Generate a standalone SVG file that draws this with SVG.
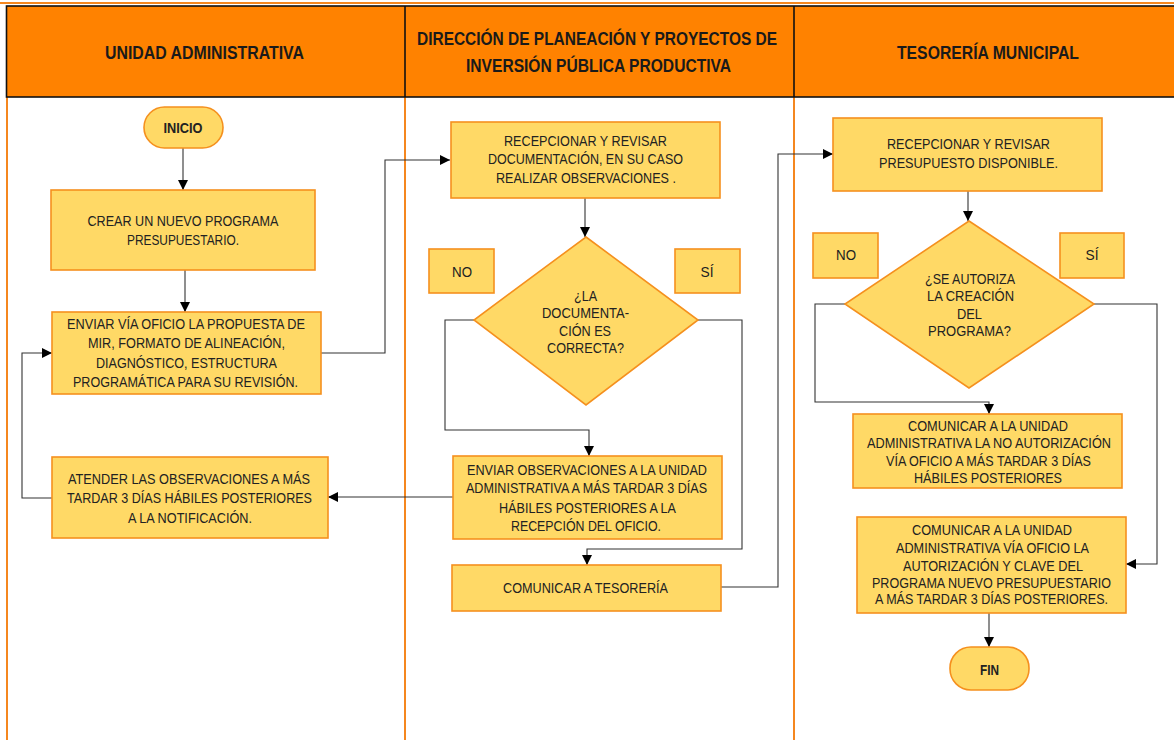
<svg xmlns="http://www.w3.org/2000/svg" width="1174" height="740" viewBox="0 0 1174 740">
<defs>
<style>
.lane{stroke:#F5871F;stroke-width:2;fill:none}
.hdr{fill:#FF8200;stroke:#111;stroke-width:1.6}
.box{fill:#FFD966;stroke:#F5901E;stroke-width:1.6}
.t{font-family:"Liberation Sans Narrow","Liberation Sans",Arial,sans-serif;font-size:14.2px;fill:#222;text-anchor:middle}
.b{font-weight:bold}
.h{font-family:"Liberation Sans Narrow","Liberation Sans",Arial,sans-serif;font-size:18px;font-weight:bold;fill:#1a1a1a;text-anchor:middle}
.c{fill:none;stroke:#333;stroke-width:1.1}
</style>
<marker id="ah" markerUnits="userSpaceOnUse" markerWidth="10" markerHeight="10" viewBox="0 0 10 10" refX="10" refY="5" orient="auto">
<path d="M0,0 L10,5 L0,10 z" fill="#000"/>
</marker>
</defs>
<rect x="0" y="0" width="1174" height="740" fill="#fff"/>
<g id="lanes">
<line class="lane" x1="0" y1="3" x2="1174" y2="3" stroke-width="2"/>
<line class="lane" x1="7" y1="97" x2="7" y2="740"/>
<line class="lane" x1="405" y1="97" x2="405" y2="740"/>
<line class="lane" x1="794" y1="97" x2="794" y2="740"/>
<rect class="hdr" x="6.5" y="6" width="1180" height="91"/>
<line x1="405" y1="6" x2="405" y2="97" stroke="#111" stroke-width="1.6"/>
<line x1="794" y1="6" x2="794" y2="97" stroke="#111" stroke-width="1.6"/>
<text class="h" x="204.5" y="59" textLength="199" lengthAdjust="spacingAndGlyphs">UNIDAD ADMINISTRATIVA</text>
<text class="h" x="597" y="45" textLength="360" lengthAdjust="spacingAndGlyphs">DIRECCIÓN DE PLANEACIÓN Y PROYECTOS DE</text>
<text class="h" x="598.5" y="72" textLength="265" lengthAdjust="spacingAndGlyphs">INVERSIÓN PÚBLICA PRODUCTIVA</text>
<text class="h" x="988" y="59" textLength="182" lengthAdjust="spacingAndGlyphs">TESORERÍA MUNICIPAL</text>
</g>
<g id="connectors">
<path class="c" d="M183,148 V190" marker-end="url(#ah)"/>
<path class="c" d="M185,270 V312" marker-end="url(#ah)"/>
<path class="c" d="M321,353 H385 V160 H450" marker-end="url(#ah)"/>
<path class="c" d="M585,198 V237" marker-end="url(#ah)"/>
<path class="c" d="M474,320 H445 V430 H589 V456" marker-end="url(#ah)"/>
<path class="c" d="M698,320 H742 V549 H587 V565" marker-end="url(#ah)"/>
<path class="c" d="M453,497 H328" marker-end="url(#ah)"/>
<path class="c" d="M52,498 H22 V353 H52" marker-end="url(#ah)"/>
<path class="c" d="M721,587 H778 V154 H833" marker-end="url(#ah)"/>
<path class="c" d="M968,191 V221" marker-end="url(#ah)"/>
<path class="c" d="M845,304 H815 V402 H989 V414" marker-end="url(#ah)"/>
<path class="c" d="M1094,304 H1157 V564 H1126" marker-end="url(#ah)"/>
<path class="c" d="M989,613 V647" marker-end="url(#ah)"/>
</g>
<g id="inicio">
<rect class="box" x="144" y="107" width="79" height="41" rx="20.5"/>
<text class="t b" x="183" y="133" textLength="39" lengthAdjust="spacingAndGlyphs">INICIO</text>
</g>
<g id="crear">
<rect class="box" x="51" y="190" width="264" height="80"/>
<text class="t" x="183" y="226" textLength="191" lengthAdjust="spacingAndGlyphs">CREAR UN NUEVO PROGRAMA</text>
<text class="t" x="183" y="245" textLength="112" lengthAdjust="spacingAndGlyphs">PRESUPUESTARIO.</text>
</g>
<g id="enviar-oficio">
<rect class="box" x="52" y="312" width="269" height="82"/>
<text class="t" x="186" y="329" textLength="238" lengthAdjust="spacingAndGlyphs">ENVIAR VÍA OFICIO  LA PROPUESTA DE</text>
<text class="t" x="186.5" y="348" textLength="197" lengthAdjust="spacingAndGlyphs">MIR, FORMATO DE ALINEACIÓN,</text>
<text class="t" x="186.5" y="368" textLength="181" lengthAdjust="spacingAndGlyphs">DIAGNÓSTICO, ESTRUCTURA</text>
<text class="t" x="185.5" y="387" textLength="225" lengthAdjust="spacingAndGlyphs">PROGRAMÁTICA PARA SU REVISIÓN.</text>
</g>
<g id="atender">
<rect class="box" x="52" y="457" width="276" height="81"/>
<text class="t" x="189" y="484" textLength="242" lengthAdjust="spacingAndGlyphs">ATENDER LAS OBSERVACIONES A MÁS</text>
<text class="t" x="189.5" y="503" textLength="245" lengthAdjust="spacingAndGlyphs">TARDAR 3 DÍAS HÁBILES POSTERIORES</text>
<text class="t" x="190" y="523" textLength="124" lengthAdjust="spacingAndGlyphs">A LA NOTIFICACIÓN.</text>
</g>
<g id="recepcionar-doc">
<rect class="box" x="451" y="122" width="269" height="76"/>
<text class="t" x="585.5" y="146" textLength="163" lengthAdjust="spacingAndGlyphs">RECEPCIONAR Y REVISAR</text>
<text class="t" x="585.5" y="164" textLength="195" lengthAdjust="spacingAndGlyphs">DOCUMENTACIÓN, EN SU CASO</text>
<text class="t" x="586" y="183" textLength="180" lengthAdjust="spacingAndGlyphs">REALIZAR OBSERVACIONES .</text>
</g>
<g id="decision-doc">
<path class="box" d="M586,237 L698,320 L586,405 L474,320 Z"/>
<text class="t" x="585.5" y="301" textLength="23" lengthAdjust="spacingAndGlyphs">¿LA</text>
<text class="t" x="585.5" y="318" textLength="87" lengthAdjust="spacingAndGlyphs">DOCUMENTA-</text>
<text class="t" x="585" y="336" textLength="52" lengthAdjust="spacingAndGlyphs">CIÓN ES</text>
<text class="t" x="585.5" y="353" textLength="77" lengthAdjust="spacingAndGlyphs">CORRECTA?</text>
</g>
<g id="no-1">
<rect class="box" x="429" y="249" width="65" height="44"/>
<text class="t" x="462" y="277" textLength="20" lengthAdjust="spacingAndGlyphs">NO</text>
</g>
<g id="si-1">
<rect class="box" x="675" y="249" width="65" height="44"/>
<text class="t" x="707" y="277" textLength="13" lengthAdjust="spacingAndGlyphs">SÍ</text>
</g>
<g id="enviar-obs">
<rect class="box" x="453" y="456" width="269" height="83"/>
<text class="t" x="587" y="475" textLength="240" lengthAdjust="spacingAndGlyphs">ENVIAR OBSERVACIONES A LA UNIDAD</text>
<text class="t" x="586.5" y="493" textLength="241" lengthAdjust="spacingAndGlyphs">ADMINISTRATIVA A MÁS TARDAR 3 DÍAS</text>
<text class="t" x="587.5" y="513" textLength="177" lengthAdjust="spacingAndGlyphs">HÁBILES POSTERIORES A LA</text>
<text class="t" x="586" y="531" textLength="150" lengthAdjust="spacingAndGlyphs">RECEPCIÓN DEL OFICIO.</text>
</g>
<g id="comunicar-tesoreria">
<rect class="box" x="452" y="565" width="269" height="46"/>
<text class="t" x="585.5" y="593" textLength="165" lengthAdjust="spacingAndGlyphs">COMUNICAR A TESORERÍA</text>
</g>
<g id="recepcionar-presupuesto">
<rect class="box" x="833" y="118" width="269" height="73"/>
<text class="t" x="968.5" y="149" textLength="163" lengthAdjust="spacingAndGlyphs">RECEPCIONAR Y REVISAR</text>
<text class="t" x="968.5" y="168" textLength="179" lengthAdjust="spacingAndGlyphs">PRESUPUESTO DISPONIBLE.</text>
</g>
<g id="decision-autoriza">
<path class="box" d="M969,221 L1094,304 L969,388 L845,304 Z"/>
<text class="t" x="970" y="284" textLength="90" lengthAdjust="spacingAndGlyphs">¿SE AUTORIZA</text>
<text class="t" x="970.5" y="301" textLength="87" lengthAdjust="spacingAndGlyphs">LA CREACIÓN</text>
<text class="t" x="969.5" y="319" textLength="25" lengthAdjust="spacingAndGlyphs">DEL</text>
<text class="t" x="969.5" y="336" textLength="83" lengthAdjust="spacingAndGlyphs">PROGRAMA?</text>
</g>
<g id="no-2">
<rect class="box" x="813" y="233" width="65" height="45"/>
<text class="t" x="846" y="260" textLength="20" lengthAdjust="spacingAndGlyphs">NO</text>
</g>
<g id="si-2">
<rect class="box" x="1060" y="233" width="64" height="45"/>
<text class="t" x="1092" y="260" textLength="13" lengthAdjust="spacingAndGlyphs">SÍ</text>
</g>
<g id="no-autorizacion">
<rect class="box" x="853" y="414" width="269" height="74"/>
<text class="t" x="988" y="431" textLength="160" lengthAdjust="spacingAndGlyphs">COMUNICAR A LA UNIDAD</text>
<text class="t" x="989" y="448" textLength="244" lengthAdjust="spacingAndGlyphs">ADMINISTRATIVA LA NO AUTORIZACIÓN</text>
<text class="t" x="988.5" y="466" textLength="205" lengthAdjust="spacingAndGlyphs">VÍA OFICIO A MÁS TARDAR 3 DÍAS</text>
<text class="t" x="988" y="483" textLength="148" lengthAdjust="spacingAndGlyphs">HÁBILES POSTERIORES</text>
</g>
<g id="autorizacion">
<rect class="box" x="857" y="517" width="269" height="96"/>
<text class="t" x="992" y="535" textLength="160" lengthAdjust="spacingAndGlyphs">COMUNICAR A LA UNIDAD</text>
<text class="t" x="992.5" y="553" textLength="193" lengthAdjust="spacingAndGlyphs">ADMINISTRATIVA VÍA OFICIO LA</text>
<text class="t" x="993" y="571" textLength="180" lengthAdjust="spacingAndGlyphs">AUTORIZACIÓN Y CLAVE DEL</text>
<text class="t" x="991.5" y="588" textLength="239" lengthAdjust="spacingAndGlyphs">PROGRAMA NUEVO PRESUPUESTARIO</text>
<text class="t" x="991.5" y="604" textLength="233" lengthAdjust="spacingAndGlyphs">A MÁS TARDAR 3 DÍAS POSTERIORES.</text>
</g>
<g id="fin">
<rect class="box" x="950" y="647" width="79" height="43" rx="21"/>
<text class="t b" x="989.5" y="675" textLength="19" lengthAdjust="spacingAndGlyphs">FIN</text>
</g>
</svg>
